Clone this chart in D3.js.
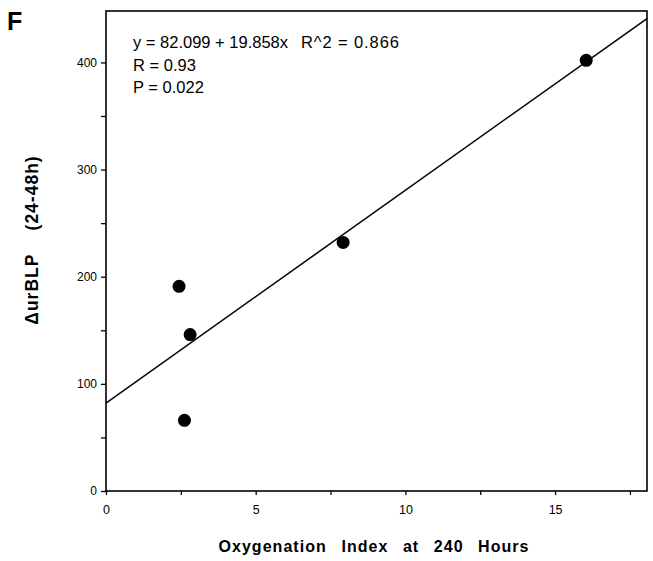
<!DOCTYPE html>
<html><head><meta charset="utf-8">
<script src="https://cdn.jsdelivr.net/npm/d3@7"></script>
<style>body{margin:0;background:#fff}svg{display:block}text{font-family:"Liberation Sans",Arial,sans-serif;fill:#000}</style>
</head><body>
<script>
const xValues = [16.04, 7.92, 2.44, 2.81, 2.62];
const yValues = [402, 232, 191, 146, 66];
const fitIntercept = 82.099, fitSlope = 19.858;
const xTicks = [0, 5, 10, 15];
const yTicks = [0, 100, 200, 300, 400];
const statLines = ["y = 82.099 + 19.858x", "R = 0.93", "P = 0.022"];
const r2Label = "R^2 = 0.866";

const W = 653, H = 561;
const svg = d3.select("body").append("svg").attr("width", W).attr("height", H);
const x = d3.scaleLinear().domain([0, 18.07]).range([106, 647]);
const y = d3.scaleLinear().domain([0, 448]).range([491, 11]);

// frame
svg.append("rect").attr("x", x(0)).attr("y", y(448)).attr("width", x(18.07) - x(0)).attr("height", y(0) - y(448))
  .attr("fill", "none").attr("stroke", "#000").attr("stroke-width", 1.6);

// x axis
const gx = svg.append("g").attr("transform", `translate(0,${y(0)})`);
gx.call(d3.axisBottom(x).tickValues(d3.range(0, 18, 2.5)).tickSize(4).tickFormat(d => xTicks.includes(d) ? d : ""));
gx.select(".domain").remove();
gx.selectAll("line").attr("stroke-width", 1.3);
gx.selectAll("text").attr("font-size", 12.5).attr("dy", "1.25em");

const gy = svg.append("g").attr("transform", `translate(${x(0)},0)`);
gy.call(d3.axisLeft(y).tickValues(d3.range(0, 448, 50)).tickSize(5).tickFormat(d => yTicks.includes(d) ? d : ""));
gy.select(".domain").remove();
gy.selectAll("line").attr("stroke-width", 1.3);
gy.selectAll("text").attr("font-size", 12).attr("x", -9);

// fit line
svg.append("line").attr("x1", x(0)).attr("y1", y(fitIntercept))
  .attr("x2", x(18.07)).attr("y2", y(fitIntercept + fitSlope * 18.07))
  .attr("stroke", "#000").attr("stroke-width", 1.5);

// points
svg.selectAll("circle.pt").data(xValues).enter().append("circle")
  .attr("cx", d => x(d)).attr("cy", (d, i) => y(yValues[i])).attr("r", 6.5).attr("fill", "#000");

// stats
statLines.forEach((t, i) => {
  svg.append("text").attr("x", 133).attr("y", 48 + i * 22.5).attr("font-size", 16.5).text(t);
});
svg.append("text").attr("x", 301).attr("y", 48).attr("font-size", 16.5).attr("letter-spacing", 0.9).text(r2Label);

// panel letter
svg.append("text").attr("x", 7).attr("y", 30).attr("font-size", 25).attr("font-weight", "bold").text("F");

// axis titles
svg.append("text").attr("x", 374).attr("y", 552).attr("text-anchor", "middle").attr("font-size", 16)
  .attr("font-weight", "bold").attr("word-spacing", 9).attr("letter-spacing", 1.05).text("Oxygenation Index at 240 Hours");
svg.append("text").attr("transform", "translate(38,240) rotate(-90)").attr("text-anchor", "middle")
  .attr("font-size", 17.5).attr("font-weight", "bold").attr("letter-spacing", 1)
  .style("white-space", "pre").text("\u0394urBLP    (24-48h)");
</script>
</body></html>
